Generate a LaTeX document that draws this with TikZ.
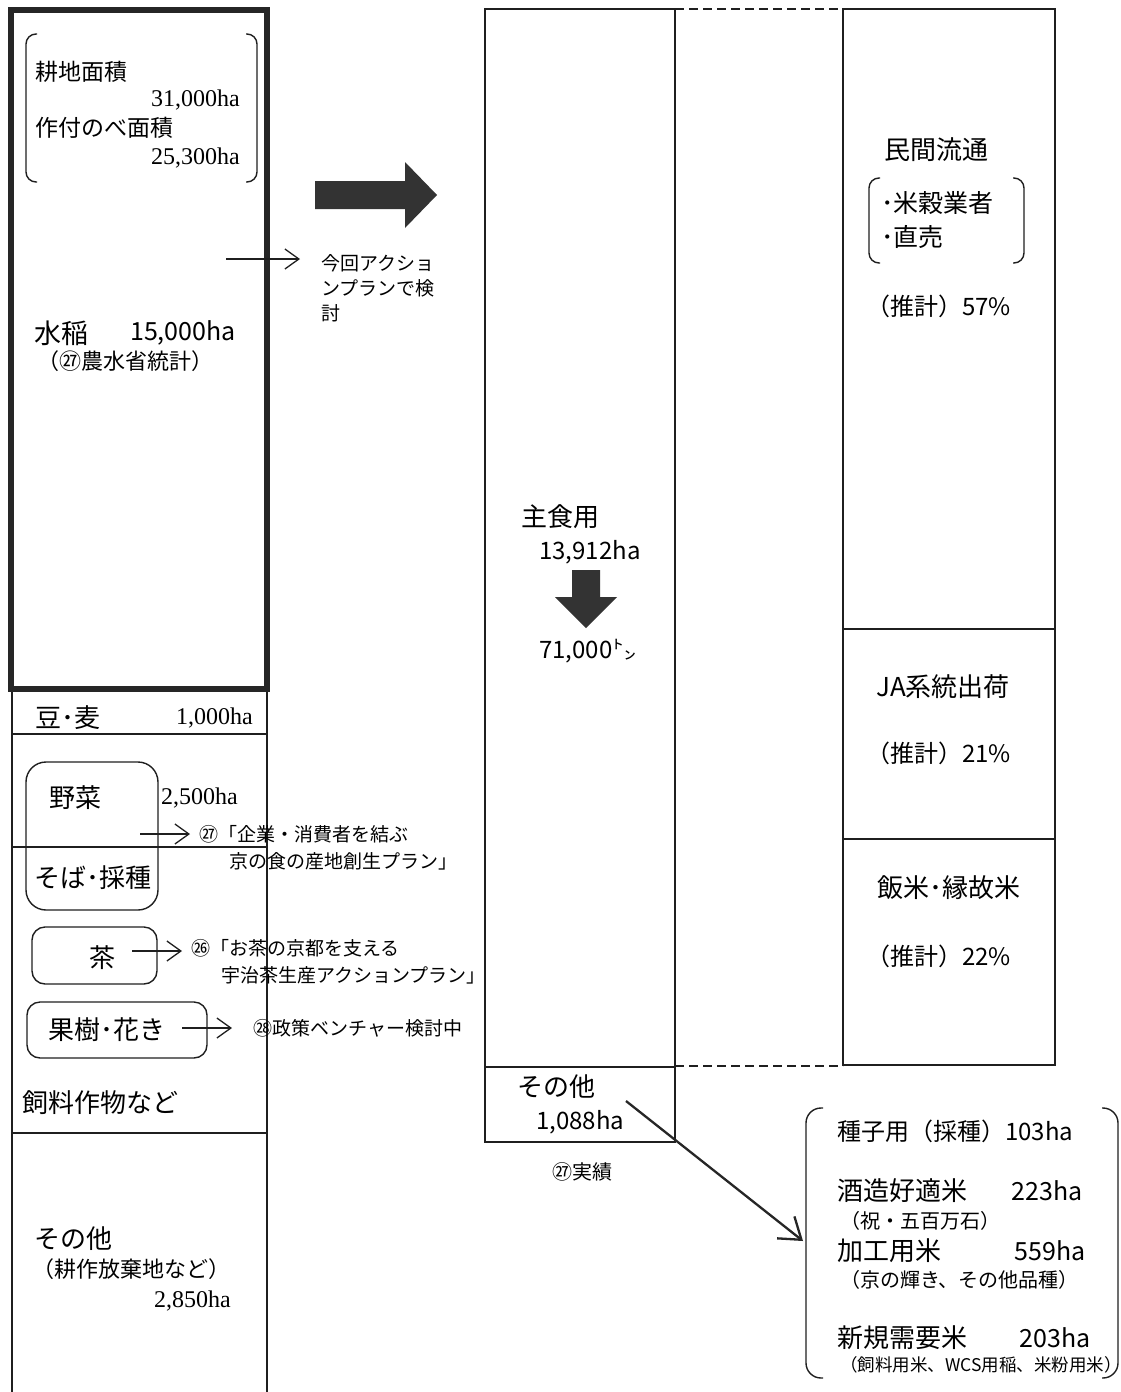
\documentclass[tikz,border=0pt]{standalone}
\usepackage{fontspec}
\setmainfont{Noto Sans CJK JP}
\newfontfamily\ser{Liberation Serif}
\usetikzlibrary{arrows.meta}
\begin{document}
\begin{tikzpicture}[x=1pt,y=-1pt,
  ln/.style={line width=1.4pt, draw=black!88},
  thick box/.style={line width=6pt, draw=black!85},
  tx/.style={inner sep=0pt, anchor=west, text=black},
  txe/.style={inner sep=0pt, anchor=east, text=black},
  f27/.style={font=\fontsize{27}{31}\selectfont},
  f26/.style={font=\fontsize{26}{30}\selectfont},
  f25/.style={font=\fontsize{25}{29}\selectfont},
  f24/.style={font=\fontsize{24}{28}\selectfont},
  f23/.style={font=\fontsize{23}{27}\selectfont},
  f22/.style={font=\fontsize{22}{26}\selectfont},
  f20/.style={font=\fontsize{20}{24}\selectfont},
  f19/.style={font=\fontsize{19}{23}\selectfont},
  f17/.style={font=\fontsize{17.5}{21}\selectfont},
  barb/.style={line width=1.3pt, draw=black!88, -{Straight Barb[length=14pt,width=20pt,line width=1.3pt]}},
  bigbarb/.style={line width=2.3pt, draw=black!85, -{Straight Barb[length=20pt,width=28pt,line width=2.3pt]}},
  blk/.style={fill=black!80},
  rbox/.style={ln, rounded corners=13pt},
  brk/.style={ln, rounded corners=10pt}]
\useasboundingbox (0,0) rectangle (1120,1392);
\fill[white] (0,0) rectangle (1120,1392);

% ---------- left column ----------
\draw[thick box] (11,10) rectangle (267,689);
\draw[ln] (12,692) -- (12,1392);
\draw[ln] (267,692) -- (267,1392);
\draw[ln] (12,734) -- (267,734);
\draw[ln] (12,847) -- (267,847);
\draw[ln] (12,1133) -- (267,1133);

% bracket in top-left
\draw[brk] (37,34) -- (26,34) -- (26,182) -- (37,182);
\draw[brk] (246,34) -- (257,34) -- (257,182) -- (246,182);
\node[tx,f23] (kochi) at (35,72) {耕地面積};
\node[txe,f24] (kochiv) at (240,100) {\ser 31,000ha};
\node[tx,f23] (sakutsuke) at (35,128) {作付のべ面積};
\node[txe,f24] (sakutsukev) at (240,158) {\ser 25,300ha};

\node[tx,f27] (suito) at (34,333) {水稲};
\node[tx,f25] (suitov) at (130,333) {15,000ha};
\node[tx,f22] (suitosrc) at (37,361) {（㉗農水省統計）};

% big right arrow
\fill[blk] (315,181) -- (405,181) -- (405,162) -- (437,195) -- (405,228) -- (405,209) -- (315,209) -- cycle;
\coordinate (a0s) at (226,259);
\coordinate (a0e) at (300,259);
\draw[barb] (a0s) -- (a0e);
\node[tx,f19] (konkai1) at (321,263) {今回アクショ};
\node[tx,f19] (konkai2) at (321,288) {ンプランで検};
\node[tx,f19] (konkai3) at (321,313) {討};

\node[tx,f26] (mame) at (35,718) {豆･麦};
\node[txe,f24] (mamev) at (253,718) {\ser 1,000ha};

% vegetables box
\draw[rbox, rounded corners=20pt] (26,762) rectangle (158,910);
\node[tx,f26] (yasai) at (49,798) {野菜};
\node[tx,f24] (yasaiv) at (161,798) {\ser 2,500ha};
\node[tx,f26] (soba) at (34,878) {そば･採種};
\coordinate (a1s) at (140,834);
\coordinate (a1e) at (190,834);
\draw[barb] (a1s) -- (a1e);
\node[tx,f19] (plan27a) at (199,834) {㉗「企業・消費者を結ぶ};
\node[tx,f19] (plan27b) at (229,861) {京の食の産地創生プラン」};

% tea box
\draw[rbox] (32,927) rectangle (157,984);
\node[tx,f26] (cha) at (89,958) {茶};
\coordinate (a2s) at (132,951);
\coordinate (a2e) at (182,951);
\draw[barb] (a2s) -- (a2e);
\node[tx,f19] (plan26a) at (191,948) {㉖「お茶の京都を支える};
\node[tx,f19] (plan26b) at (221,975) {宇治茶生産アクションプラン」};

% fruit box
\draw[rbox] (27,1002) rectangle (207,1058);
\node[tx,f26] (kaju) at (48,1030) {果樹･花き};
\coordinate (a3s) at (182,1028);
\coordinate (a3e) at (232,1028);
\draw[barb] (a3s) -- (a3e);
\node[tx,f19] (plan28) at (253,1028) {㉘政策ベンチャー検討中};

\node[tx,f26] (shiryo) at (22,1103) {飼料作物など};
\node[tx,f26] (sonota1) at (34,1239) {その他};
\node[tx,f22] (sonota1b) at (32,1269) {（耕作放棄地など）};
\node[txe,f24] (sonota1v) at (231,1301) {\ser 2,850ha};

% ---------- middle column ----------
\draw[ln] (485,9) rectangle (675,1142);
\draw[ln] (485,1067) -- (675,1067);
\draw[ln, dash pattern=on 9pt off 5pt] (675,9) -- (843,9);
\draw[ln, dash pattern=on 9pt off 5pt] (675,1066) -- (843,1066);

\node[tx,f26] (shushoku) at (521,517) {主食用};
\node[tx,f24] (shushokuv) at (539,552) {13,912ha};
\fill[blk] (572,570) -- (600,570) -- (600,597) -- (617,597) -- (586,628) -- (555,597) -- (572,597) -- cycle;
\node[tx,f24] (ton) at (539,651) {71,000㌧};

\node[tx,f26] (sonota2) at (517,1087) {その他};
\node[tx,f24] (sonota2v) at (536,1122) {1,088ha};
\node[tx,f20] (jisseki) at (552,1172) {㉗実績};

% ---------- right column ----------
\draw[ln] (843,9) rectangle (1055,1065);
\draw[ln] (843,629) -- (1055,629);
\draw[ln] (843,839) -- (1055,839);

\node[tx,f26] (minkan) at (884,150) {民間流通};
\draw[brk] (880,178) -- (869,178) -- (869,263) -- (880,263);
\draw[brk] (1013,178) -- (1024,178) -- (1024,263) -- (1013,263);
\node[tx,f25] (beikoku) at (881,203) {･米穀業者};
\node[tx,f25] (chokubai) at (881,237) {･直売};
\node[tx,f24] (p57) at (866,306) {（推計）57\%};

\node[tx,f26] (ja) at (876,687) {JA系統出荷};
\node[tx,f24] (p21) at (866,753) {（推計）21\%};

\node[tx,f26] (hanmai) at (877,888) {飯米･縁故米};
\node[tx,f24] (p22) at (866,956) {（推計）22\%};

% ---------- bottom-right breakdown ----------
\draw[brk, rounded corners=15pt] (823,1108) -- (806,1108) -- (806,1378) -- (823,1378);
\draw[brk, rounded corners=15pt] (1102,1108) -- (1118,1108) -- (1118,1378) -- (1102,1378);
\node[tx,f24] (shushi) at (837,1131) {種子用（採種）103ha};
\node[tx,f26] (shuzo) at (837,1191) {酒造好適米};
\node[txe,f25] (shuzov) at (1083,1191) {223ha};
\node[tx,f20] (iwai) at (840,1221) {（祝・五百万石）};
\node[tx,f26] (kako) at (837,1251) {加工用米};
\node[txe,f25] (kakov) at (1086,1251) {559ha};
\node[tx,f20] (kyo) at (840,1280) {（京の輝き、その他品種）};
\node[tx,f26] (shinki) at (837,1338) {新規需要米};
\node[txe,f25] (shinkiv) at (1091,1338) {203ha};
\node[tx,f17] (shiryomai) at (840,1365) {（飼料用米、WCS用稲、米粉用米）};

\coordinate (a4s) at (626,1101);
\coordinate (a4e) at (803,1241);
\draw[bigbarb] (a4s) -- (a4e);
\end{tikzpicture}
\end{document}
